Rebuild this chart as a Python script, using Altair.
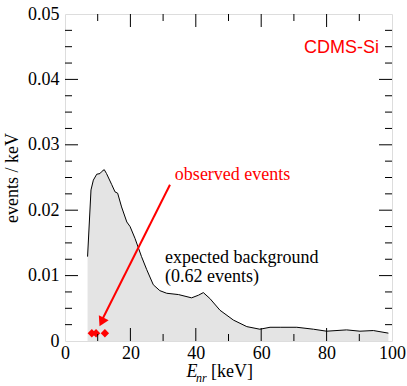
import altair as alt
import pandas as pd

# background spectrum (E_nr keV, events/keV)
energy = [6.9, 7.95, 8.67, 9.7, 10.7, 11.2, 12.0, 12.7, 14.3, 15.3, 16.1, 17.3, 18.9, 19.9,
          21.4, 23.4, 25.0, 27.0, 29.0, 31.1, 34.7, 38.7, 40.8, 42.3, 44.3, 47.4, 51.5,
          55.6, 59.6, 62.7, 66.0, 70.9, 76.0, 80.0, 86.1, 90.2, 94.3, 98.9]
rate = [0.0129, 0.0231, 0.0246, 0.0255, 0.0256, 0.0259, 0.0262, 0.0256, 0.0239, 0.0228,
        0.0226, 0.0205, 0.0182, 0.0175, 0.0157, 0.0129, 0.0109, 0.0086, 0.0077, 0.0073,
        0.0071, 0.0066, 0.0070, 0.0074, 0.0065, 0.0047, 0.0032, 0.0022, 0.0018, 0.0021,
        0.0021, 0.0021, 0.0018, 0.0015, 0.0017, 0.0015, 0.0016, 0.0012]

# observed events
obs_energy = [8.2, 9.5, 12.2]
obs_rate = [0.00118, 0.00118, 0.00118]

# arrow (start, end) in data units
arrow_x = [32.1, 11.2]
arrow_y = [0.0239, 0.0031]
arrow_head_x = [11.2]
arrow_head_y = [0.0029]

x_major = [0, 20, 40, 60, 80, 100]
x_minor = [10, 30, 50, 70, 90]
y_major = [0, 0.01, 0.02, 0.03, 0.04, 0.05]
y_minor = [0.0025, 0.005, 0.0075, 0.0125, 0.015, 0.0175, 0.0225, 0.025, 0.0275,
           0.0325, 0.035, 0.0375, 0.0425, 0.045, 0.0475]

W, H = 327, 327
SERIF = "'Liberation Serif', 'Times New Roman', Times, serif"
SANS = "'Liberation Sans', Arial, Helvetica, sans-serif"

xs = alt.Scale(domain=[0, 100], nice=False, zero=False)
ys = alt.Scale(domain=[0, 0.05], nice=False, zero=False)

df = pd.DataFrame({"E": energy, "r": rate})
area = alt.Chart(df).mark_area(
    color="#d9d9d9", line={"color": "black", "strokeWidth": 1}
).encode(
    x=alt.X("E:Q", scale=xs, axis=alt.Axis(
        values=x_major, tickSize=0, labelFontSize=18, labelFont=SERIF, labelColor="black",
        labelPadding=3, domain=False, grid=False, title=None, labelFlush=False)),
    y=alt.Y("r:Q", scale=ys, axis=alt.Axis(
        values=y_major, tickSize=0, labelFontSize=18, labelFont=SERIF, labelColor="black",
        labelPadding=6, domain=False, grid=False, title="events / keV",
        titleFontSize=18, titleFont=SERIF, titleFontWeight="normal", titleColor="black",
        titlePadding=6, labelFlush=False, format="~g")),
)

obs = alt.Chart(pd.DataFrame({"E": obs_energy, "r": obs_rate})).mark_point(
    shape="diamond", filled=True, color="#ff0000", size=70, opacity=1
).encode(x=alt.X("E:Q", scale=xs), y=alt.Y("r:Q", scale=ys))

arrow_df = pd.DataFrame({"x": [arrow_x[0]], "y": [arrow_y[0]], "x2": [arrow_x[1]], "y2": [arrow_y[1]]})
arrow = alt.Chart(arrow_df).mark_rule(color="#ff0000", strokeWidth=2).encode(
    x=alt.X("x:Q", scale=xs), y=alt.Y("y:Q", scale=ys), x2="x2:Q", y2="y2:Q")
head = alt.Chart(pd.DataFrame({"x": arrow_head_x, "y": arrow_head_y})).mark_point(
    shape="triangle-up", filled=True, color="#ff0000", size=120, angle=206.5, opacity=1
).encode(x=alt.X("x:Q", scale=xs), y=alt.Y("y:Q", scale=ys))

labels_df = pd.DataFrame({
    "x": [33.6, 30.6, 30.6],
    "y": [0.0254, 0.0127, 0.0098],
    "t": ["observed events", "expected background", "(0.62 events)"],
    "c": ["#ff0000", "black", "black"],
})
labels = alt.Chart(labels_df).mark_text(
    align="left", baseline="middle", font=SERIF, fontSize=18
).encode(x=alt.X("x:Q", scale=xs), y=alt.Y("y:Q", scale=ys), text="t:N",
         color=alt.Color("c:N", scale=None))

cdms = alt.Chart(pd.DataFrame({"x": [96.0], "y": [0.0448], "t": ["CDMS-Si"]})).mark_text(
    align="right", baseline="middle", font=SANS, fontSize=18, color="#ff0000"
).encode(x=alt.X("x:Q", scale=xs), y=alt.Y("y:Q", scale=ys), text="t:N")

# inward ticks on all four sides
def xticks(vals, length):
    d = pd.DataFrame({"v": vals})
    b = alt.Chart(d).mark_rule(color="black", strokeWidth=1).encode(
        x=alt.X("v:Q", scale=xs), y=alt.value(H), y2=alt.value(H - length))
    t = alt.Chart(d).mark_rule(color="black", strokeWidth=1).encode(
        x=alt.X("v:Q", scale=xs), y=alt.value(0), y2=alt.value(length))
    return [b, t]

def yticks(vals, length):
    d = pd.DataFrame({"v": vals})
    l = alt.Chart(d).mark_rule(color="black", strokeWidth=1).encode(
        y=alt.Y("v:Q", scale=ys), x=alt.value(0), x2=alt.value(length))
    r = alt.Chart(d).mark_rule(color="black", strokeWidth=1).encode(
        y=alt.Y("v:Q", scale=ys), x=alt.value(W), x2=alt.value(W - length))
    return [l, r]

ticks = xticks(x_major[1:-1], 13) + xticks(x_minor, 7) + yticks(y_major[1:-1], 13) + yticks(y_minor, 7)

# x axis title: E_nr [keV]
t_E = alt.Chart(pd.DataFrame({"t": ["E"]})).mark_text(
    font=SERIF, fontSize=18, fontStyle="italic", align="center",
    baseline="middle", color="black").encode(
    text="t:N", x=alt.value(127), y=alt.value(H + 31))
t_nr = alt.Chart(pd.DataFrame({"t": ["nr"]})).mark_text(
    font=SERIF, fontSize=12, fontStyle="italic", align="left", baseline="middle", color="black").encode(
    text="t:N", x=alt.value(131), y=alt.value(H + 37))
t_kev = alt.Chart(pd.DataFrame({"t": ["[keV]"]})).mark_text(
    font=SERIF, fontSize=18, align="left", baseline="middle", color="black").encode(
    text="t:N", x=alt.value(146), y=alt.value(H + 31))

chart = alt.layer(area, obs, arrow, head, labels, cdms, *ticks, t_E, t_nr, t_kev).properties(
    width=W, height=H,
    autosize=alt.AutoSizeParams(type="none"),
    padding={"left": 65, "top": 14, "right": 15, "bottom": 45},
).configure_view(stroke="black", strokeWidth=1).configure(background="white")

chart.save("out.html", embed_options={"renderer": "svg", "actions": False})
